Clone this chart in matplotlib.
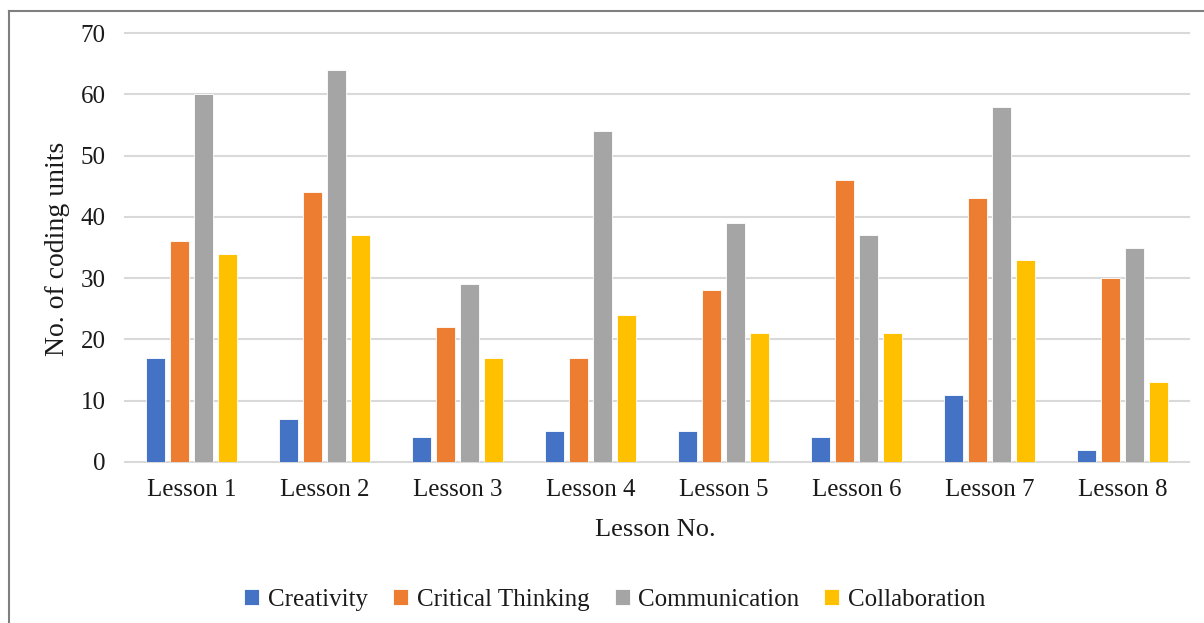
import numpy as np
import matplotlib
matplotlib.use('Agg')
import matplotlib.pyplot as plt
from matplotlib.lines import Line2D

plt.rcParams['font.family'] = ['Liberation Serif', 'DejaVu Serif']

# data
lessons = ['Lesson 1', 'Lesson 2', 'Lesson 3', 'Lesson 4',
           'Lesson 5', 'Lesson 6', 'Lesson 7', 'Lesson 8']
creativity = [17, 7, 4, 5, 5, 4, 11, 2]
critical_thinking = [36, 44, 22, 17, 28, 46, 43, 30]
communication = [60, 64, 29, 54, 39, 37, 58, 35]
collaboration = [34, 37, 17, 24, 21, 21, 33, 13]

series = [('Creativity', creativity, '#4472C4'),
          ('Critical Thinking', critical_thinking, '#ED7D31'),
          ('Communication', communication, '#A5A5A5'),
          ('Collaboration', collaboration, '#FFC000')]

W, H = 1204, 623
fig = plt.figure(figsize=(W / 100, H / 100), dpi=100)
ax = fig.add_axes([125 / W, 161 / H, (1189 - 125) / W, (462 - 33) / H])

x = np.arange(len(lessons))
width = 0.145
step = 0.182
for i, (name, vals, col) in enumerate(series):
    ax.bar(x + (i - 1.5) * step, vals, width, color=col, label=name,
           edgecolor='white', linewidth=0.6, zorder=3)

ax.set_xlim(-0.5, len(lessons) - 0.5)
ax.set_ylim(0, 70)
ax.set_yticks(range(0, 71, 10))
ax.set_xticks(x)
ax.set_xticklabels(lessons)
for s in ax.spines.values():
    s.set_visible(False)
ax.grid(axis='y', color='#D9D9D9', linewidth=1.5, zorder=0)
for gl in ax.yaxis.get_gridlines():
    gl.set_clip_on(False)
ax.tick_params(axis='both', length=0, labelsize=18, colors='#1a1a1a')
ax.tick_params(axis='y', pad=14)
ax.tick_params(axis='x', pad=12)

fig.text(57 / W, 1 - 249 / H, 'No. of coding units', rotation=90,
         ha='center', va='center', fontsize=20, color='#1a1a1a')
fig.text(655 / W, 1 - 530 / H, 'Lesson No.', ha='center', va='center',
         fontsize=19, color='#1a1a1a')

fig.legend(loc='center', bbox_to_anchor=(615 / W, 1 - 600 / H), ncol=4,
           frameon=False, fontsize=18, handlelength=0.6, handleheight=0.6,
           handletextpad=0.35, columnspacing=1.0, labelcolor='#1a1a1a')

# light frame at top and left of the picture
fig.add_artist(Line2D([9 / W, 1], [1 - 11 / H, 1 - 11 / H], color='#7F7F7F', linewidth=1.5))
fig.add_artist(Line2D([9 / W, 9 / W], [0, 1 - 11 / H], color='#7F7F7F', linewidth=1.5))

fig.savefig('out.png', dpi=100, facecolor='white')
